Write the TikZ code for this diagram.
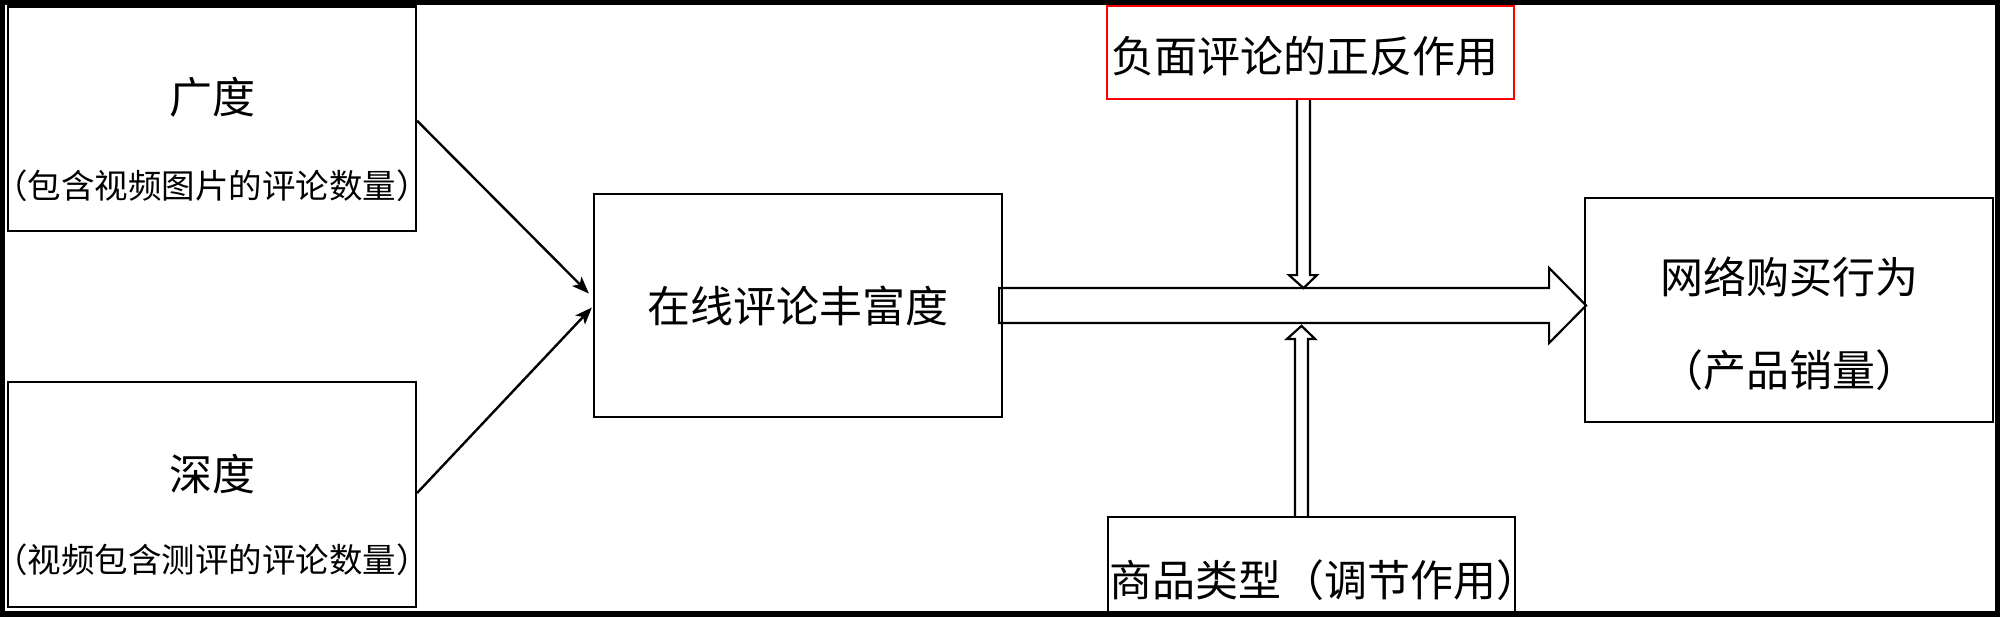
\documentclass[tikz,border=0pt]{standalone}
\usepackage{fontspec}
\setmainfont{Noto Sans CJK SC}
\usetikzlibrary{arrows.meta,calc}
\begin{document}
\begin{tikzpicture}[x=1pt,y=-1pt,
  box/.style={draw=black,line width=2.2pt,inner sep=0pt},
  bigtxt/.style={font=\fontsize{43pt}{50pt}\selectfont,inner sep=0pt},
  smalltxt/.style={font=\fontsize{33.5pt}{40pt}\selectfont,inner sep=0pt},
  thinarrow/.style={line width=2.4pt,-{Stealth[length=17pt,width=13pt,inset=4pt]}},
  blockarrow/.style={draw=black,line width=2.2pt,line join=miter}]
\useasboundingbox (0,0) rectangle (2000,616);
% boxes
\node[box,minimum width=408pt,minimum height=224.5pt] (b1) at (212,118.75) {};
\node[box,minimum width=408pt,minimum height=225pt] (b2) at (212,494.5) {};
\node[box,minimum width=408pt,minimum height=223pt] (mid) at (798,305.5) {};
\node[box,minimum width=408pt,minimum height=224pt] (buy) at (1789,310) {};
\node[box,draw=red,minimum width=407pt,minimum height=93pt] (neg) at (1310.5,52.5) {};
\node[box,minimum width=407pt,minimum height=120pt] (cat) at (1311.5,577) {};
% texts
\node[bigtxt] (t1) at (212,97) {广度};
\node[smalltxt] (t1s) at (212,186) {（包含视频图片的评论数量）};
\node[bigtxt] (t2) at (212,474) {深度};
\node[smalltxt] (t2s) at (212,560) {（视频包含测评的评论数量）};
\node[bigtxt] (t3) at (798,306) {在线评论丰富度};
\node[bigtxt] (t4) at (1789,277) {网络购买行为};
\node[bigtxt] (t4s) at (1789,370) {（产品销量）};
\node[bigtxt] (t5) at (1305,56) {负面评论的正反作用};
\node[bigtxt,anchor=west] (t6) at (1109,580) {商品类型（调节作用）};
% thin arrows
\draw[thinarrow] ($(b1.east)+(0,2)$) -- ($(mid.west)+(-4,-12)$);
\draw[thinarrow] ($(b2.east)+(0,-1.5)$) -- ($(mid.west)+(-1,2)$);
% block arrows
\coordinate (dx) at (1303.5,0);
\coordinate (ux) at (1301.5,0);
\draw[blockarrow] ($(mid.east)+(-4,-17.5)$) -- ++(550,0) -- ++(0,-20) -- ++(37,37.5) -- ++(-37,37.5) -- ++(0,-20) -- ++(-550,0) -- cycle;
\draw[blockarrow] ($(neg.south -| dx)+(-6.5,0)$) -- ++(0,175) -- ++(-8,0) -- ++(14.5,13) -- ++(13.5,-13) -- ++(-7,0) -- ++(0,-175);
\draw[blockarrow] ($(cat.north -| ux)+(-6.5,0)$) -- ++(0,-177) -- ++(-8,0) -- ++(14.5,-13) -- ++(13.5,13) -- ++(-7,0) -- ++(0,177);
% frame
\draw[line width=10pt] (0,0) rectangle (2000,616);
\end{tikzpicture}
\end{document}
